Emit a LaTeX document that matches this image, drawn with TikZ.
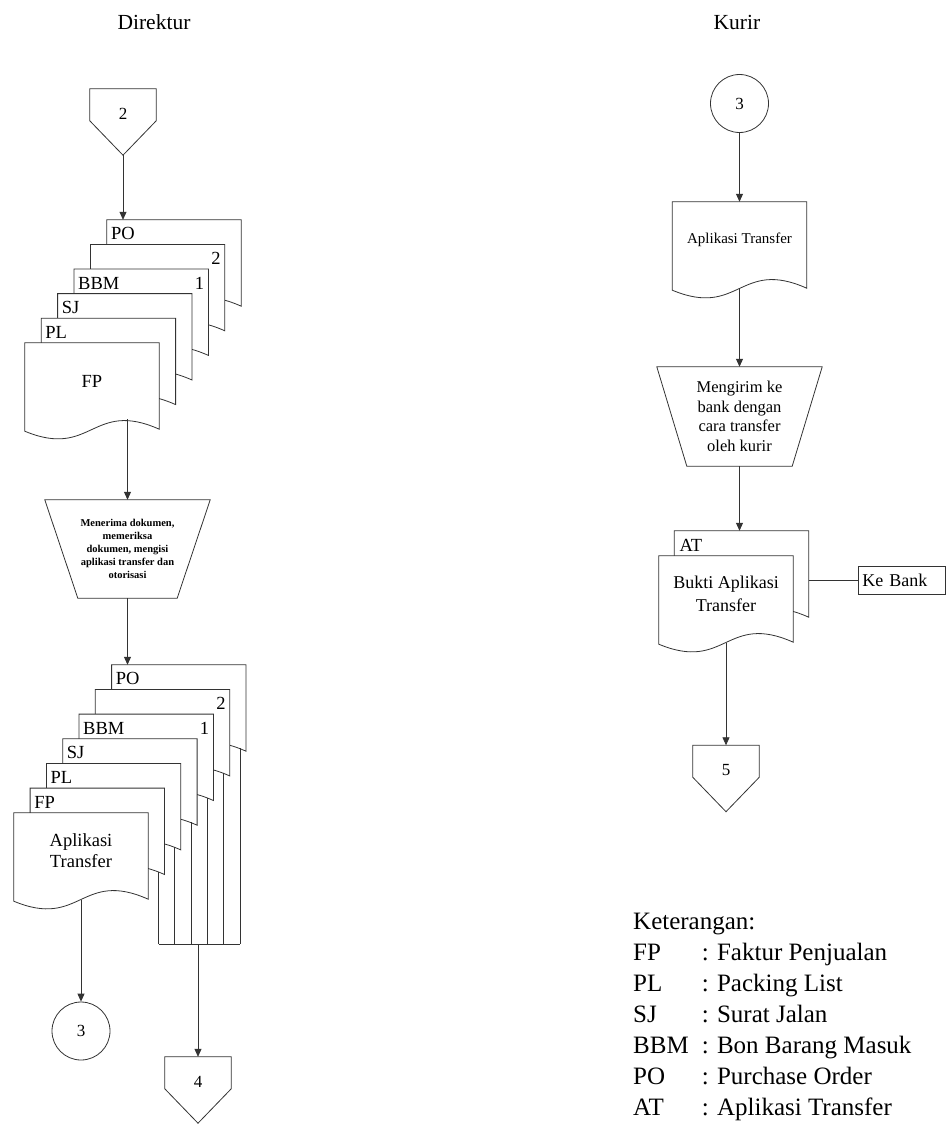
\documentclass[tikz,border=0pt]{standalone}
\usepackage{fontspec}
\setmainfont{Liberation Serif}
\usetikzlibrary{arrows.meta,calc}

\newcommand{\fs}[2]{\fontsize{#1}{#2}\selectfont}

% document symbol: box outline with a wavy lower edge; (name-w) is the middle of the wave
\newcommand{\docedge}[1]{%
  \fill[white] (#1.south west) -- (#1.south east) -- ([yshift=-10pt]#1.south east)
    .. controls ([yshift=20pt]#1.south) and ([yshift=-40pt]#1.south) .. ([yshift=-12pt]#1.south west) -- cycle;
  \draw[ln] (#1.north west) -- (#1.north east) -- ([yshift=-10pt]#1.south east)
    .. controls ([yshift=20pt]#1.south) and ([yshift=-40pt]#1.south) .. ([yshift=-12pt]#1.south west) -- cycle;
  \coordinate (#1-w) at ([yshift=-11pt]#1.south);
}
% manual operation: trapezium narrowing downwards
\newcommand{\manualop}[2]{%
  \draw[ln] (#1.north west) -- (#1.north east) -- ([xshift=-#2]#1.south east)
    -- ([xshift=#2]#1.south west) -- cycle;
}
% off-page connector: pentagon pointing down
\newcommand{\offpage}[1]{%
  \draw[ln] (#1.north west) -- (#1.north east) -- ([yshift=-32pt]#1.north east)
    -- (#1.south) -- ([yshift=-32pt]#1.north west) -- cycle;
}

\begin{document}
\begin{tikzpicture}[x=1pt, y=-1pt,
  ln/.style={draw=black!80, line width=0.8pt},
  arr/.style={ln, -{Triangle[width=7pt,length=8pt]}},
  docbox/.style={rectangle, fill=white, inner sep=0pt, minimum width=134pt,
    minimum height=76pt, align=center},
  tag/.style={inner sep=0pt, font=\fs{18.5}{22}},
  title/.style={inner sep=0pt, font=\fs{21.5}{26}},
  offp/.style={rectangle, inner sep=0pt, minimum width=66pt, minimum height=66pt,
    text height=11pt, text depth=17pt, font=\fs{17}{20}},
  conn/.style={circle, ln, inner sep=0pt, minimum size=58pt, font=\fs{17}{20}},
  opbox/.style={rectangle, inner sep=0pt, minimum width=165pt, minimum height=98pt,
    align=center},
]
\useasboundingbox (0,0) rectangle (946,1124);

% ---------- lane titles ----------
\node[title] (tdir) at (154,22) {Direktur};
\node[title] (tkur) at (737,22) {Kurir};

% ---------- Direktur ----------
\node[offp] (c2) at (123,122) {2};
\offpage{c2}

% incoming documents
\node[docbox] (upo) at (174,258) {}; \docedge{upo}
\node[tag, anchor=base west] (upo-t) at ([xshift=4pt,yshift=-20pt]upo.north west) {PO};
\node[docbox] (ub2) at (157.6,282.6) {}; \docedge{ub2}
\node[tag, anchor=base east] (ub2-t) at ([xshift=-4pt,yshift=-20pt]ub2.north east) {2};
\node[docbox] (ubbm) at (141.2,307.2) {}; \docedge{ubbm}
\node[tag, anchor=base west] (ubbm-t) at ([xshift=4pt,yshift=-20pt]ubbm.north west) {BBM};
\node[tag, anchor=base east] (ubbm-n) at ([xshift=-4pt,yshift=-20pt]ubbm.north east) {1};
\node[docbox] (usj) at (124.8,331.8) {}; \docedge{usj}
\node[tag, anchor=base west] (usj-t) at ([xshift=4pt,yshift=-20pt]usj.north west) {SJ};
\node[docbox] (upl) at (108.4,356.4) {}; \docedge{upl}
\node[tag, anchor=base west] (upl-t) at ([xshift=4pt,yshift=-20pt]upl.north west) {PL};
\node[docbox, font=\fs{18.5}{22}] (ufp) at (92,381) {FP}; \docedge{ufp}

\draw[arr] (c2.south) -- (c2.south |- upo.north);

% checking and authorising
\node[opbox, font=\bfseries\fs{10.5}{13}] (m1) at (127.5,549)
  {Menerima dokumen,\\memeriksa\\dokumen, mengisi\\aplikasi transfer dan\\otorisasi};
\manualop{m1}{33pt}
\draw[arr] (m1.north |- ufp.south) -- (m1.north);

% outgoing documents
\node[docbox] (lpo) at (178.8,703) {}; \docedge{lpo}
\node[tag, anchor=base west] (lpo-t) at ([xshift=4pt,yshift=-20pt]lpo.north west) {PO};
\node[docbox] (lb2) at (162.5,727.7) {}; \docedge{lb2}
\node[tag, anchor=base east] (lb2-t) at ([xshift=-4pt,yshift=-20pt]lb2.north east) {2};
\node[docbox] (lbbm) at (146.2,752.3) {}; \docedge{lbbm}
\node[tag, anchor=base west] (lbbm-t) at ([xshift=4pt,yshift=-20pt]lbbm.north west) {BBM};
\node[tag, anchor=base east] (lbbm-n) at ([xshift=-4pt,yshift=-20pt]lbbm.north east) {1};
\node[docbox] (lsj) at (129.9,777) {}; \docedge{lsj}
\node[tag, anchor=base west] (lsj-t) at ([xshift=4pt,yshift=-20pt]lsj.north west) {SJ};
\node[docbox] (lpl) at (113.6,801.7) {}; \docedge{lpl}
\node[tag, anchor=base west] (lpl-t) at ([xshift=4pt,yshift=-20pt]lpl.north west) {PL};
\node[docbox] (lfp) at (97.3,826.3) {}; \docedge{lfp}
\node[tag, anchor=base west] (lfp-t) at ([xshift=4pt,yshift=-20pt]lfp.north west) {FP};
\node[docbox, font=\fs{18.5}{21}] (lat) at (81,851) {Aplikasi\\Transfer}; \docedge{lat}

\draw[arr] (m1.south) -- (m1.south |- lpo.north);

% application form to the courier
\node[conn] (c3a) at (81,1031) {3};
\draw[arr] (lat-w) -- (c3a.north);

% the other copies are filed
\coordinate (bus) at (198,944);
\foreach \nm in {lfp,lpl,lsj,lbbm,lb2,lpo}{
  \coordinate (\nm-v) at ([xshift=-6pt,yshift=-7pt]\nm.south east);
  \draw[ln] (\nm-v) -- (\nm-v |- bus);
}
\draw[ln] (lfp-v |- bus) -- (lpo-v |- bus);
\node[offp] (c4) at (198,1090) {4};
\offpage{c4}
\draw[arr] (bus) -- (c4.north);

% ---------- Kurir ----------
\node[conn] (c3b) at (739.5,103.5) {3};
\node[docbox, font=\fs{15}{18}] (kat) at (739.5,240) {Aplikasi Transfer}; \docedge{kat}
\draw[arr] (c3b.south) -- (kat.north);

\node[opbox, minimum height=99pt, font=\fs{16.5}{19.5}] (m2) at (739.5,416.5)
  {Mengirim ke\\bank dengan\\cara transfer\\oleh kurir};
\manualop{m2}{30pt}
\draw[arr] (kat-w) -- (m2.north);

\node[docbox] (bat) at (741.5,569) {}; \docedge{bat}
\node[tag, anchor=base west] (bat-t) at ([xshift=5pt,yshift=-21pt]bat.north west) {AT};
\node[docbox, font=\fs{18}{23}] (fbk) at (726,594) {Bukti Aplikasi\\Transfer}; \docedge{fbk}
\draw[arr] (m2.south) -- (m2.south |- bat.north);

\node[ln, rectangle, anchor=west, inner xsep=4pt, inner ysep=0pt, text width=79pt,
  minimum height=28pt, align=left, font=\fs{18}{22}] (kb) at (858,580) {Ke Bank};
\draw[ln] (kb.west -| bat.east) -- (kb.west);

\node[offp] (c5) at (726,778.5) {5};
\offpage{c5}
\draw[arr] (fbk-w) -- (c5.north);

% ---------- legend ----------
\node[anchor=north west, inner sep=0pt, font=\fs{25}{31}, align=left] (legend) at (633,908) {%
  \begin{tabular}{@{}l@{\hspace{13pt}}l@{}}
  \multicolumn{2}{@{}l@{}}{Keterangan:}\\
  FP  & : Faktur Penjualan\\
  PL  & : Packing List\\
  SJ  & : Surat Jalan\\
  BBM & : Bon Barang Masuk\\
  PO  & : Purchase Order\\
  AT  & : Aplikasi Transfer
  \end{tabular}};
\end{tikzpicture}
\end{document}
